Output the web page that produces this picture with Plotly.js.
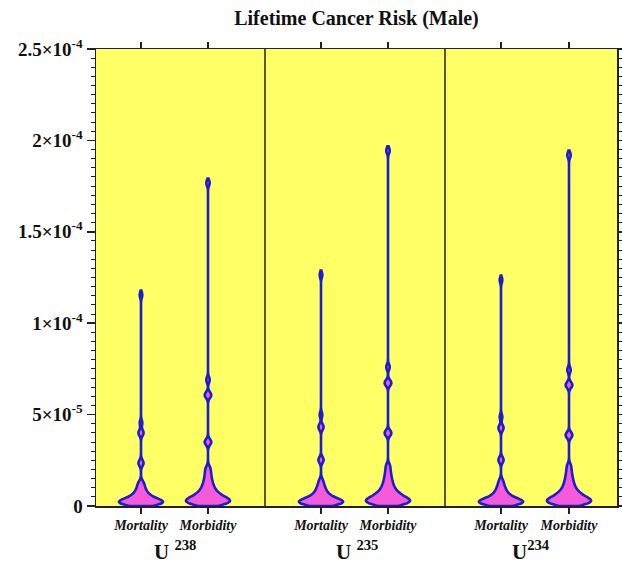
<!DOCTYPE html>
<html>
<head>
<meta charset="utf-8">
<script src="https://cdn.plot.ly/plotly-3.0.1.min.js"></script>
<style>html,body{margin:0;padding:0;background:#fff;}#chart{width:622px;height:563px;}</style>
</head>
<body>
<div id="chart"></div>
<script>
// ---- data ----
const categories = ['Mortality', 'Morbidity'];
const groups = ['U <sup>238</sup>', 'U <sup>235</sup>', 'U<sup>234</sup>'];

const u238Mortality = [0.4e-6,0.7e-6,0.9e-6,1.1e-6,1.3e-6,1.4e-6,1.6e-6,1.7e-6,1.9e-6,2.0e-6,2.2e-6,2.3e-6,2.5e-6,2.7e-6,2.9e-6,3.1e-6,3.4e-6,3.7e-6,4.0e-6,4.4e-6,4.8e-6,5.3e-6,5.9e-6,6.5e-6,7.2e-6,8.0e-6,9.0e-6,10.2e-6,11.6e-6,13.0e-6,
  23.1e-6,23.9e-6,39.6e-6,40.4e-6,45.4e-6,115.4e-6];
const u238Morbidity = [0.4e-6,0.8e-6,1.1e-6,1.4e-6,1.6e-6,1.9e-6,2.1e-6,2.4e-6,2.6e-6,2.9e-6,3.1e-6,3.4e-6,3.7e-6,4.0e-6,4.3e-6,4.7e-6,5.1e-6,5.5e-6,6.0e-6,6.5e-6,7.1e-6,7.8e-6,8.6e-6,9.5e-6,10.5e-6,11.7e-6,13.0e-6,14.6e-6,16.4e-6,18.5e-6,20.8e-6,
  34.6e-6,35.4e-6,60.3e-6,61.1e-6,69.0e-6,176.7e-6];
const u235Mortality = [0.4e-6,0.7e-6,0.9e-6,1.1e-6,1.3e-6,1.5e-6,1.6e-6,1.8e-6,1.9e-6,2.1e-6,2.2e-6,2.4e-6,2.6e-6,2.8e-6,3.0e-6,3.2e-6,3.5e-6,3.8e-6,4.1e-6,4.5e-6,4.9e-6,5.4e-6,6.0e-6,6.7e-6,7.4e-6,8.3e-6,9.3e-6,10.5e-6,12.0e-6,14.0e-6,
  24.8e-6,25.6e-6,42.8e-6,43.6e-6,49.8e-6,126.4e-6];
const u235Morbidity = [0.4e-6,0.8e-6,1.1e-6,1.4e-6,1.7e-6,1.9e-6,2.2e-6,2.4e-6,2.7e-6,2.9e-6,3.2e-6,3.5e-6,3.8e-6,4.1e-6,4.4e-6,4.8e-6,5.2e-6,5.7e-6,6.2e-6,6.7e-6,7.3e-6,8.0e-6,8.8e-6,9.7e-6,10.8e-6,12.0e-6,13.4e-6,15.0e-6,16.9e-6,19.2e-6,22.0e-6,
  39.5e-6,40.3e-6,66.9e-6,67.7e-6,76.0e-6,194.4e-6];
const u234Mortality = [0.4e-6,0.7e-6,0.9e-6,1.1e-6,1.3e-6,1.5e-6,1.6e-6,1.8e-6,1.9e-6,2.1e-6,2.2e-6,2.4e-6,2.6e-6,2.8e-6,3.0e-6,3.2e-6,3.5e-6,3.8e-6,4.1e-6,4.5e-6,4.9e-6,5.4e-6,6.0e-6,6.7e-6,7.4e-6,8.3e-6,9.3e-6,10.5e-6,12.0e-6,14.0e-6,
  24.8e-6,25.6e-6,42.3e-6,43.1e-6,48.7e-6,123.6e-6];
const u234Morbidity = [0.4e-6,0.8e-6,1.1e-6,1.4e-6,1.7e-6,1.9e-6,2.2e-6,2.4e-6,2.7e-6,2.9e-6,3.2e-6,3.5e-6,3.8e-6,4.1e-6,4.4e-6,4.8e-6,5.2e-6,5.7e-6,6.2e-6,6.7e-6,7.3e-6,8.0e-6,8.8e-6,9.7e-6,10.8e-6,12.0e-6,13.4e-6,15.0e-6,16.9e-6,19.2e-6,22.0e-6,
  38.4e-6,39.2e-6,65.8e-6,66.6e-6,74.4e-6,192.0e-6];

const series = [u238Mortality, u238Morbidity, u235Mortality, u235Morbidity, u234Mortality, u234Morbidity];
const yTickVals = [0, 5e-5, 1e-4, 1.5e-4, 2e-4, 2.5e-4];
const yTickText = ['0', '5×10<sup>-5</sup>', '1×10<sup>-4</sup>', '1.5×10<sup>-4</sup>', '2×10<sup>-4</sup>', '2.5×10<sup>-4</sup>'];

// ---- layout geometry (x axis in plot-pixel units) ----
const xPos = [45, 112, 225, 292, 405, 473];
const dividers = [169, 349];
const groupLabelX = [79, 261, 435];

const SERIF = 'Liberation Serif, Times New Roman, serif';
const BW = 1.6e-6;

const traces = series.map((vals, i) => ({
  type: 'violin',
  y: vals,
  x0: xPos[i],
  name: categories[i % 2],
  width: 44,
  scalemode: 'width',
  spanmode: 'manual',
  span: [0, Math.max(...vals) + 1.5 * BW],
  bandwidth: BW,
  points: false,
  box: {visible: false},
  meanline: {visible: false},
  fillcolor: '#f55ad8',
  line: {color: '#1c1cd2', width: 2.6},
  opacity: 1,
  showlegend: false,
  hoverinfo: 'y'
}));

const layout = {
  width: 622, height: 563,
  margin: {l: 96, r: 5, t: 49, b: 57},
  paper_bgcolor: '#ffffff',
  plot_bgcolor: '#ffff66',
  violinmode: 'overlay',
  title: {
    text: '<b>Lifetime Cancer Risk (Male)</b>',
    font: {family: SERIF, size: 20, color: '#111'},
    x: 0.5, xref: 'paper', xanchor: 'center',
    y: 1 - 18/563, yref: 'container', yanchor: 'middle'
  },
  xaxis: {
    range: [0, 521],
    tickmode: 'array',
    tickvals: xPos,
    ticktext: xPos.map((_, i) => categories[i % 2]),
    tickfont: {family: SERIF, size: 14, weight: 'bold', style: 'italic', color: '#111'},
    ticks: 'outside', ticklen: 6, tickwidth: 1.5, tickcolor: '#222',
    showline: true, linecolor: '#222', linewidth: 1.5, mirror: 'ticks',
    showgrid: false, zeroline: false, fixedrange: true
  },
  yaxis: {
    range: [0, 2.5e-4],
    tickmode: 'array',
    tickvals: yTickVals,
    ticktext: yTickText,
    tickfont: {family: SERIF, size: 19, weight: 'bold', color: '#111'},
    ticks: 'outside', ticklen: 8, tickwidth: 1.5, tickcolor: '#222',
    minor: {dtick: 5e-6, ticks: 'outside', ticklen: 4, tickwidth: 1, tickcolor: '#222', showgrid: false},
    showline: true, linecolor: '#222', linewidth: 1.5, mirror: 'ticks',
    showgrid: false, zeroline: false, fixedrange: true
  },
  shapes: dividers.map(x => ({
    type: 'line', xref: 'x', yref: 'paper', x0: x, x1: x, y0: 0, y1: 1,
    line: {color: '#222', width: 1.5}
  })),
  annotations: groups.map((g, i) => ({
    text: '<b>' + g + '</b>',
    xref: 'x', yref: 'paper',
    x: groupLabelX[i], y: -(550 - 506) / 457,
    xanchor: 'center', yanchor: 'middle',
    showarrow: false,
    font: {family: SERIF, size: 21, color: '#111'}
  }))
};

Plotly.newPlot('chart', traces, layout, {displayModeBar: false, staticPlot: true});
</script>
</body>
</html>
